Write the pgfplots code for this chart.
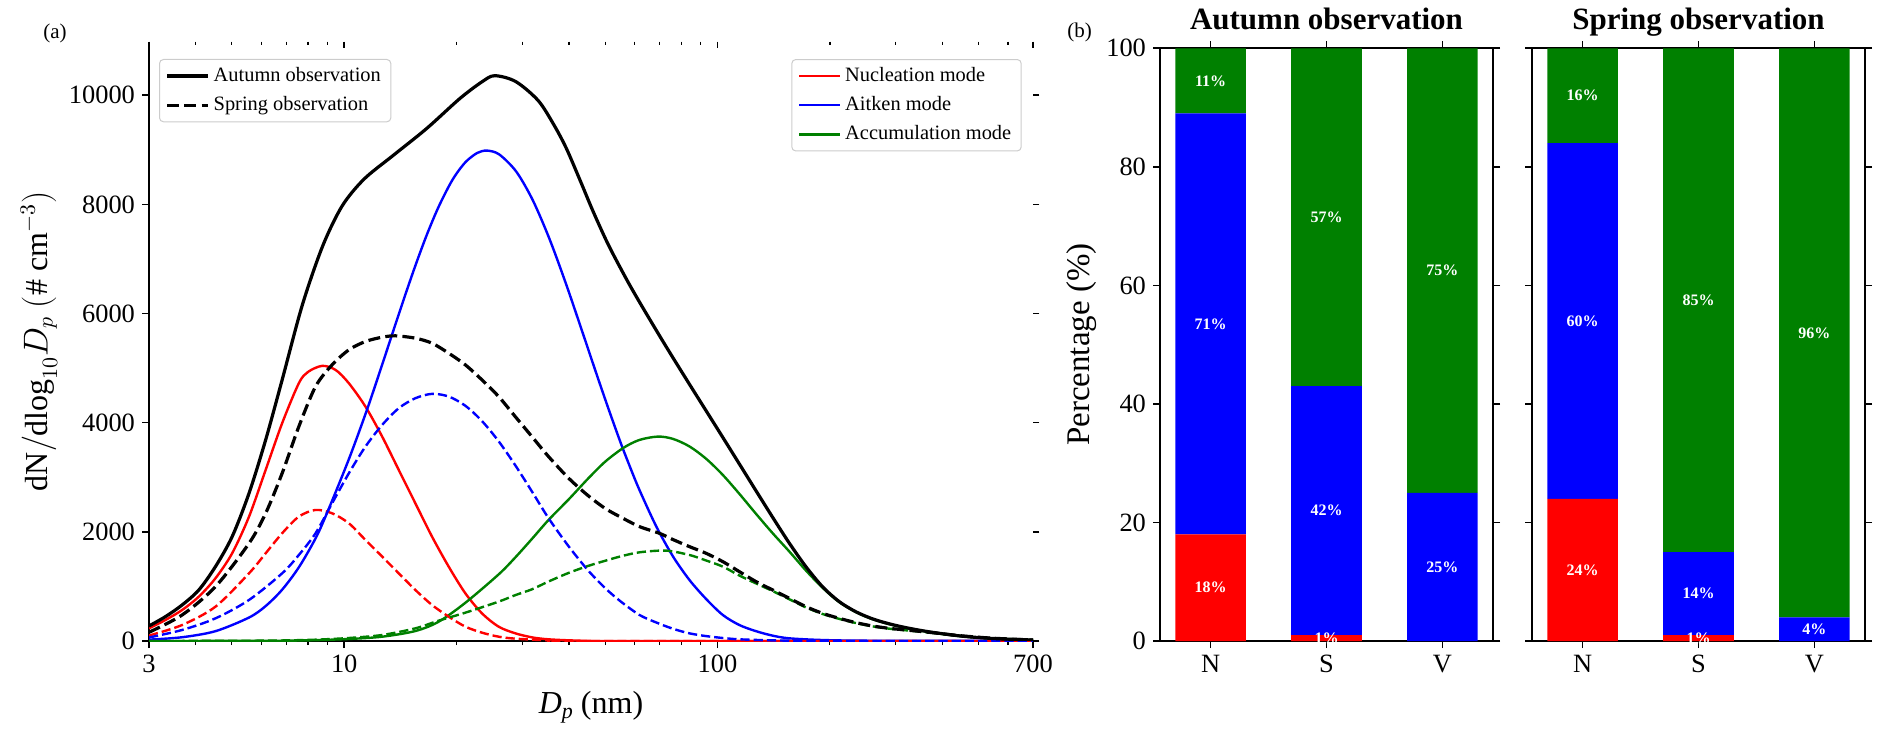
\documentclass[border=0pt]{standalone}
\usepackage{fontspec}
\setmainfont{Liberation Serif}
\usepackage{pgfplots}
\pgfplotsset{compat=1.18}
\definecolor{mgreen}{RGB}{0,128,0}
\tikzset{barlab/.style={text=white, font=\bfseries\fontsize{8}{9}\selectfont, inner sep=0pt}}
\begin{document}
\begin{tikzpicture}
\useasboundingbox (0,0) rectangle (946pt,370pt);
% ---------- panel (a): modes ----------
\begin{axis}[
  at={(74.5pt,49.5pt)}, anchor=south west,
  scale only axis, width=442pt, height=299.65pt,
  xmode=log, log basis x=10, xmin=3, xmax=700, ymin=0, ymax=10980,
  scaled ticks=false,
  xtick={3,10,100,700}, xticklabels={3,10,100,700},
  minor xtick={4,5,6,7,8,9,20,30,40,50,60,70,80,90,200,300,400,500,600},
  ytick={0,2000,4000,6000,8000,10000},
  yticklabels={0,2000,4000,6000,8000,10000},
  tick label style={font=\fontsize{13.2}{15}\selectfont},
  major tick length=3.5pt, minor tick length=2pt,
  major tick style={black, line width=0.8pt},
  minor tick style={black, line width=0.6pt},
  axis x line*=bottom, axis y line*=left,
  axis line style={black, line width=0.8pt},
  tick align=outside,
  xlabel={\textit{D}\raisebox{-0.35ex}{\fontsize{11}{12}\selectfont\textit{p}} (nm)},
  ylabel={$\mathrm{dN/dlog}_{10}D_p\ (\#\ \mathrm{cm}^{-3})$},
  every axis x label/.style={at={(axis description cs:0.5,-0.1101)}, anchor=center, font=\fontsize{16}{19}\selectfont},
  every axis y label/.style={at={(axis description cs:-0.1244,0.5)}, anchor=center, rotate=90, font=\fontsize{16}{19}\selectfont},
  legend cell align=left,
  legend image code/.code={\draw[#1] (0pt,0pt) -- (20.5pt,0pt);},
  legend style={draw=black!20, line width=0.5pt, rounded corners=2pt, fill=white,
    font=\fontsize{10.2}{12}\selectfont, row sep=2pt,
    at={(1,1)}, anchor=north east, xshift=-5.65pt, yshift=-8.65pt},
]
\addplot[red, line width=1.2pt, smooth] coordinates {
(3.00,232) (3.32,385) (3.68,568) (4.08,813) (4.52,1149) (5.01,1607) (5.56,2279) (6.16,3134) (6.82,3990) (7.56,4723) (8.0,4930) (8.73,5041) (9.48,4967) (10.29,4723) (11.40,4295) (12.64,3745) (14.00,3134) (15.51,2523) (17.19,1912) (19.05,1363) (21.11,874) (23.39,507) (25.92,263) (28.72,141) (31.83,67) (35.27,31) (42,8) (55,0) (700,0)};
\addlegendentry{Nucleation mode}
\addplot[blue, line width=1.2pt, smooth] coordinates {
(3.00,25) (3.68,69) (4.52,180) (5.56,430) (6.16,640) (6.82,940) (7.56,1350) (8.38,1880) (9.00,2350) (10.29,3330) (11.52,4245) (12.6,5036) (13.5,5659) (14.5,6298) (15.5,6871) (16.6,7421) (17.8,7918) (19.1,8340) (20.0,8565) (21.2,8784) (22.7,8941) (24.1,8985) (26.0,8916) (28.9,8600) (32.0,8076) (35.5,7361) (39.4,6518) (43.7,5612) (47.7,4838) (51.3,4211) (55.2,3606) (58.4,3175) (61.8,2766) (68.5,2103) (75.9,1555) (84.1,1118) (93.2,770) (103.3,477) (114.4,293) (126.8,180) (140.5,98) (155.7,49) (191.2,18) (260,5) (700,0)};
\addlegendentry{Aitken mode}
\addplot[mgreen, line width=1.2pt, smooth] coordinates {
(3.00,0) (6.0,3) (8.0,12) (10.29,37) (12.64,79) (15.51,183) (17.91,354) (21.11,700) (25.92,1220) (28.72,1530) (31.83,1870) (35.27,2218) (40,2600) (45,2975) (50,3285) (56,3540) (61.8,3684) (69.2,3745) (75.9,3704) (84.1,3565) (93.2,3339) (103.3,3043) (114.4,2697) (126.8,2330) (140.5,1975) (155.7,1640) (172.6,1290) (191.2,975) (211.9,712) (234.9,528) (260.3,398) (288.4,308) (319.6,238) (369,163) (450,86) (550,43) (700,17)};
\addlegendentry{Accumulation mode}
\addplot[red, line width=1.2pt, smooth, dash pattern=on 4.6pt off 2pt, forget plot] coordinates {
(3.00,100) (3.68,293) (4.52,629) (5.56,1240) (6.16,1607) (6.82,1974) (7.56,2279) (8.38,2401) (9.28,2340) (10.29,2157) (11.40,1851) (12.64,1546) (14.00,1240) (15.51,935) (17.19,660) (19.05,446) (21.11,263) (23.39,153) (25.92,79) (28.72,43) (35.27,12) (45,0) (700,0)};
\addplot[blue, line width=1.2pt, smooth, dash pattern=on 4.6pt off 2pt, forget plot] coordinates {
(3.00,65) (3.68,202) (4.52,415) (5.56,752) (6.82,1240) (7.56,1576) (8.38,1974) (9.28,2523) (10.29,3073) (11.40,3562) (12.64,3959) (14.00,4265) (15.51,4448) (17.19,4528) (19.05,4479) (21.11,4310) (23.39,4030) (25.92,3660) (28.72,3220) (31.83,2740) (35.27,2250) (40,1727) (45,1294) (50,969) (55,726) (61.8,477) (68.5,340) (75.9,225) (84.1,140) (93.2,90) (103.3,55) (114.4,31) (140.5,12) (200,0) (700,0)};
\addplot[mgreen, line width=1.2pt, smooth, dash pattern=on 4.6pt off 2pt, forget plot] coordinates {
(3.00,0) (5.0,3) (6.82,10) (8.38,24) (10.29,55) (12.64,110) (15.51,232) (17.91,373) (21.11,519) (25.92,721) (28.72,840) (31.83,947) (35.27,1090) (40,1250) (45,1375) (50,1470) (55,1550) (61.8,1625) (72.8,1656) (84.1,1576) (93.2,1475) (103.3,1363) (114.4,1200) (126.8,1055) (140.5,915) (155.7,765) (172.6,615) (191.2,495) (211.9,405) (234.9,328) (260.3,268) (288.4,226) (319.6,196) (369,155) (450,92) (550,48) (700,18)};
\end{axis}
% ---------- panel (a): observations ----------
\begin{axis}[
  at={(74.5pt,49.5pt)}, anchor=south west,
  scale only axis, width=442pt, height=299.65pt,
  xmode=log, log basis x=10, xmin=3, xmax=700, ymin=0, ymax=10980,
  scaled ticks=false,
  xtick={3,10,100,700}, xticklabels={},
  minor xtick={4,5,6,7,8,9,20,30,40,50,60,70,80,90,200,300,400,500,600},
  ytick=\empty,
  major tick style={black, line width=0.8pt},
  minor tick style={black, line width=0.6pt},
  axis x line*=top, axis y line*=right,
  axis line style={draw=none},
  tick align=inside,
  major tick length=3.15pt, minor tick length=1.5pt,
  legend cell align=left,
  legend image code/.code={\draw[#1] (0pt,0pt) -- (20.5pt,0pt);},
  legend style={draw=black!20, line width=0.5pt, rounded corners=2pt, fill=white,
    font=\fontsize{10.2}{12}\selectfont, row sep=2pt,
    at={(0,1)}, anchor=north west, xshift=5pt, yshift=-8.65pt},
]
\addplot[black, line width=1.6pt, smooth] coordinates {
(3.00,275) (3.32,446) (3.68,660) (4.08,935) (4.52,1363) (5.01,1912) (5.56,2707) (6.16,3684) (6.82,4784) (7.72,6150) (8.75,7231) (9.87,7969) (11.3,8462) (13.5,8892) (16.6,9385) (20.4,9938) (23.4,10246) (25.3,10357) (28.8,10250) (33.1,9900) (36.5,9450) (39.4,9020) (43,8414) (46.4,7874) (51,7259) (56.9,6641) (61.8,6210) (69.9,5595) (76,5188) (84.1,4704) (93.2,4218) (103.3,3731) (114.4,3244) (126.8,2752) (140.5,2266) (155.7,1793) (172.6,1359) (191.2,993) (211.9,721) (234.9,535) (260.3,405) (288.4,315) (319.6,245) (369,168) (450,90) (550,45) (700,18)};
\addlegendentry{Autumn observation}
\addplot[black, line width=1.6pt, smooth, dash pattern=on 6pt off 2.6pt] coordinates {
(3.00,160) (3.68,477) (4.52,996) (5.56,1790) (6.16,2340) (6.82,3073) (7.56,3929) (8.38,4662) (9.28,5059) (10.29,5334) (11.40,5487) (12.64,5566) (13.72,5591) (15.51,5548) (17.19,5456) (19.05,5273) (21.11,5059) (23.39,4784) (25.92,4479) (28.72,4112) (31.83,3745) (35.27,3379) (40,2977) (45,2664) (50,2429) (55,2271) (61.8,2096) (69.9,1973) (75.9,1860) (84.1,1729) (93.2,1607) (103.3,1454) (114.4,1271) (126.8,1088) (140.5,935) (155.7,782) (172.6,629) (191.2,507) (211.9,415) (234.9,336) (260.3,275) (288.4,232) (319.6,202) (369,159) (450,95) (550,50) (700,18)};
\addlegendentry{Spring observation}
\end{axis}
% ---------- panel (a): right ticks ----------
\begin{axis}[
  at={(74.5pt,49.5pt)}, anchor=south west,
  scale only axis, width=442pt, height=299.65pt,
  xmode=log, xmin=3, xmax=700, ymin=0, ymax=10980,
  scaled ticks=false,
  axis x line=none, axis y line*=right,
  axis line style={draw=none},
  xtick=\empty, ytick={0,2000,4000,6000,8000,10000}, yticklabels={},
  tick align=outside, major tick length=3.15pt,
  major tick style={black, line width=0.8pt},
]
\end{axis}
% ---------- panel (b): autumn ----------
\begin{axis}[
  at={(580pt,49.5pt)}, anchor=south west,
  scale only axis, width=166.5pt, height=296.35pt,
  xmin=-0.437, xmax=2.437, ymin=0, ymax=100,
  ybar stacked, bar width=0.61,
  xtick={0,1,2}, xticklabels={N,S,V},
  ytick={0,20,40,60,80,100}, yticklabels={0,20,40,60,80,100},
  tick align=outside, major tick length=3.5pt,
  major tick style={black, line width=0.8pt},
  axis line style={black, line width=0.8pt},
  tick label style={font=\fontsize{13.2}{15}\selectfont},
  title style={at={(0.5,1)}, anchor=base, yshift=3.3pt, font=\bfseries\fontsize{15.5}{18}\selectfont},
  title={Autumn observation},
  ylabel={Percentage (\%)},
  every axis y label/.style={at={(axis description cs:-0.2365,0.5)}, anchor=center, rotate=90, font=\fontsize{16.5}{19}\selectfont},
]
\addplot[fill=red, draw=none] coordinates {(0,18) (1,1) (2,0)};
\addplot[fill=blue, draw=none] coordinates {(0,71) (1,42) (2,25)};
\addplot[fill=mgreen, draw=none] coordinates {(0,11) (1,57) (2,75)};
\end{axis}
\begin{axis}[
  at={(580pt,49.5pt)}, anchor=south west,
  scale only axis, width=166.5pt, height=296.35pt,
  xmin=-0.437, xmax=2.437, ymin=0, ymax=100, hide axis, clip=false,
]
\node[barlab] at (axis cs:0,9) {18\%};
\node[barlab] at (axis cs:0,53.5) {71\%};
\node[barlab] at (axis cs:0,94.5) {11\%};
\node[barlab] at (axis cs:1,0.5) {1\%};
\node[barlab] at (axis cs:1,22) {42\%};
\node[barlab] at (axis cs:1,71.5) {57\%};
\node[barlab] at (axis cs:2,12.5) {25\%};
\node[barlab] at (axis cs:2,62.5) {75\%};
\end{axis}
% ---------- panel (b): spring ----------
\begin{axis}[
  at={(766pt,49.5pt)}, anchor=south west,
  scale only axis, width=166.5pt, height=296.35pt,
  xmin=-0.437, xmax=2.437, ymin=0, ymax=100,
  ybar stacked, bar width=0.61,
  xtick={0,1,2}, xticklabels={N,S,V},
  ytick={0,20,40,60,80,100}, yticklabels={},
  tick align=outside, major tick length=3.5pt,
  major tick style={black, line width=0.8pt},
  axis line style={black, line width=0.8pt},
  tick label style={font=\fontsize{13.2}{15}\selectfont},
  title style={at={(0.5,1)}, anchor=base, yshift=3.3pt, font=\bfseries\fontsize{15.5}{18}\selectfont},
  title={Spring observation},
]
\addplot[fill=red, draw=none] coordinates {(0,24) (1,1) (2,0)};
\addplot[fill=blue, draw=none] coordinates {(0,60) (1,14) (2,4)};
\addplot[fill=mgreen, draw=none] coordinates {(0,16) (1,85) (2,96)};
\end{axis}
\begin{axis}[
  at={(766pt,49.5pt)}, anchor=south west,
  scale only axis, width=166.5pt, height=296.35pt,
  xmin=-0.437, xmax=2.437, ymin=0, ymax=100, hide axis, clip=false,
]
\node[barlab] at (axis cs:0,12) {24\%};
\node[barlab] at (axis cs:0,54) {60\%};
\node[barlab] at (axis cs:0,92) {16\%};
\node[barlab] at (axis cs:1,0.5) {1\%};
\node[barlab] at (axis cs:1,8) {14\%};
\node[barlab] at (axis cs:1,57.5) {85\%};
\node[barlab] at (axis cs:2,2) {4\%};
\node[barlab] at (axis cs:2,52) {96\%};
\end{axis}
\node[font=\fontsize{10.5}{12}\selectfont] at (27.5pt,353.5pt) {(a)};
\node[font=\fontsize{10.5}{12}\selectfont] at (539.75pt,353.75pt) {(b)};
\end{tikzpicture}
\end{document}
